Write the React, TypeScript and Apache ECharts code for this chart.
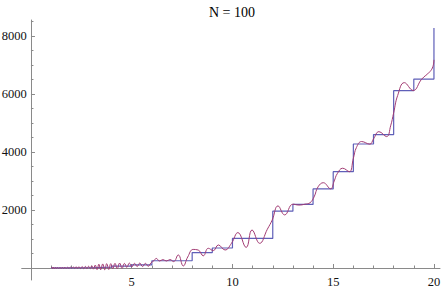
import React, { useEffect, useRef } from "react";
import * as echarts from "echarts";

// Step function (blue): value holds from x[i] until x[i+1]
const stepX = [1, 2, 3, 4, 5, 6, 8, 9, 10, 12, 13, 14, 15, 16, 17, 18, 19, 20];
const stepY = [1, 8, 27, 64, 110, 250, 530, 690, 1020, 1960, 2190, 2725, 3320, 4275, 4600, 6115, 6515, 8270];

// Fourier approximation (red) at peaks / troughs
const approxX = [
  1.0, 1.04, 1.08, 1.12, 1.17, 1.22, 1.27, 1.32, 1.38, 1.44, 1.5, 1.56, 1.62, 1.68, 1.75, 1.82, 1.89, 1.96,
  2.03, 2.1, 2.17, 2.24, 2.31, 2.38, 2.46, 2.54, 2.62, 2.7, 2.78, 2.86, 2.94, 3.02, 3.1, 3.19, 3.28, 3.37,
  3.46, 3.56, 3.66, 3.76, 3.86, 3.96, 4.06, 4.17, 4.28, 4.4, 4.52, 4.64, 4.76, 4.88, 5.01, 5.14, 5.27, 5.4,
  5.54, 5.68, 5.82, 5.96, 6.1, 6.22, 6.38, 6.55, 6.72, 6.9, 7.08, 7.31, 7.56, 7.78, 8.05, 8.3, 8.55, 8.8,
  9.05, 9.3, 9.63, 9.95, 10.27, 10.68, 10.97, 11.35, 11.73, 11.97, 12.26, 12.59, 13.0, 13.3, 13.6, 13.85,
  14.05, 14.25, 14.51, 14.87, 15.05, 15.2, 15.47, 15.8, 16.0, 16.15, 16.41, 16.82, 17.0, 17.27, 17.65, 17.85,
  18.0, 18.2, 18.53, 18.97, 19.39, 19.8, 19.95, 20.0,
];
const approxY = [
  0, 30, -25, 25, -25, 25, -20, 25, -20, 25, -20, 30, -20, 30, -20, 30, -15, 35,
  -10, 40, -15, 45, -15, 45, -20, 50, -25, 55, -25, 60, -25, 75, -40, 100, -55, 130,
  -60, 140, -60, 150, -50, 150, -25, 160, -20, 170, -10, 160, 20, 170, 40, 160, 50, 170,
  50, 160, 60, 180, 250, 330, 240, 290, 240, 290, 220, 450, 70, 380, 640, 620, 420, 680,
  600, 794, 621, 850, 1220, 710, 1310, 850, 1335, 1650, 2140, 1830, 2200, 2170, 2200, 2250,
  2450, 2800, 2940, 2730, 3000, 3250, 3440, 3320, 3780, 4150, 4360, 4270, 4450, 4700, 4530, 4900,
  5350, 5950, 6390, 6120, 6510, 6770, 6950, 7176,
];

const xMajor = [5, 10, 15, 20];
const xMinor = [1, 2, 3, 4, 6, 7, 8, 9, 11, 12, 13, 14, 16, 17, 18, 19];
const yMajor = [2000, 4000, 6000, 8000];
const yMinor = [500, 1000, 1500, 2500, 3000, 3500, 4500, 5000, 5500, 6500, 7000, 7500, 8500];

const X_MIN = -0.46;
const X_MAX = 20.3;
const Y_MIN = -414;
const Y_MAX = 8550;

const AXIS_COLOR = "#8a8a8a";
const FONT = "'Liberation Serif', 'DejaVu Serif', serif";
const plain = (v: number) => String(v);

export default function App() {
  const ref = useRef<HTMLDivElement>(null);

  useEffect(() => {
    if (!ref.current) return;
    const chart = echarts.init(ref.current, null, { renderer: "svg" });
    const stepData = stepX.map((x, i) => [x, stepY[i]]);
    const approxData = approxX.map((x, i) => [x, approxY[i]]);

    chart.setOption({
      animation: false,
      backgroundColor: "#ffffff",
      grid: { left: 21.7, right: 3, top: 20, bottom: 8, containLabel: false, outerBoundsMode: "none" },
      graphic: [
        {
          type: "text",
          x: 232,
          y: 12,
          style: {
            text: "N = 100",
            align: "center",
            verticalAlign: "middle",
            fontFamily: FONT,
            fontSize: 14,
            fill: "#000",
          },
        },
      ],
      xAxis: [
        {
          type: "value",
          min: X_MIN,
          max: X_MAX,
          axisLine: { show: true, onZero: true, lineStyle: { color: AXIS_COLOR, width: 1 } },
          axisTick: { show: true, inside: true, length: 4, customValues: xMajor, lineStyle: { color: AXIS_COLOR } },
          axisLabel: { customValues: xMajor, formatter: plain, margin: -4.5, fontFamily: FONT, fontSize: 12.5, color: "#111" },
          splitLine: { show: false },
        },
        {
          type: "value",
          min: X_MIN,
          max: X_MAX,
          position: "bottom",
          axisLine: { show: true, onZero: true, onZeroAxisIndex: 0, lineStyle: { color: AXIS_COLOR, opacity: 0 } },
          axisTick: { show: true, inside: true, length: 2.5, customValues: xMinor, lineStyle: { color: AXIS_COLOR } },
          axisLabel: { show: false },
          splitLine: { show: false },
        },
      ],
      yAxis: [
        {
          type: "value",
          min: Y_MIN,
          max: Y_MAX,
          axisLine: { show: true, onZero: true, lineStyle: { color: AXIS_COLOR, width: 1 } },
          axisTick: { show: true, inside: true, length: 4, customValues: yMajor, lineStyle: { color: AXIS_COLOR } },
          axisLabel: { customValues: yMajor, formatter: plain, margin: -5, fontFamily: FONT, fontSize: 12.5, color: "#111" },
          splitLine: { show: false },
        },
        {
          type: "value",
          min: Y_MIN,
          max: Y_MAX,
          position: "left",
          axisLine: { show: true, onZero: true, onZeroAxisIndex: 0, lineStyle: { color: AXIS_COLOR, opacity: 0 } },
          axisTick: { show: true, inside: true, length: 2.5, customValues: yMinor, lineStyle: { color: AXIS_COLOR } },
          axisLabel: { show: false },
          splitLine: { show: false },
        },
      ],
      series: [
        {
          type: "line",
          step: "end",
          data: stepData,
          xAxisIndex: 0,
          yAxisIndex: 0,
          showSymbol: false,
          symbol: "none",
          lineStyle: { color: "#5f5fb8", width: 1.2 },
          z: 2,
        },
        {
          type: "line",
          smooth: 0.45,
          data: approxData,
          xAxisIndex: 0,
          yAxisIndex: 0,
          showSymbol: false,
          symbol: "none",
          lineStyle: { color: "#a33c74", width: 1 },
          z: 3,
        },
      ],
    });

    return () => chart.dispose();
  }, []);

  return (
    <div
      ref={ref}
      style={{ position: "absolute", left: 0, top: 0, width: 443, height: 288 }}
    />
  );
}
